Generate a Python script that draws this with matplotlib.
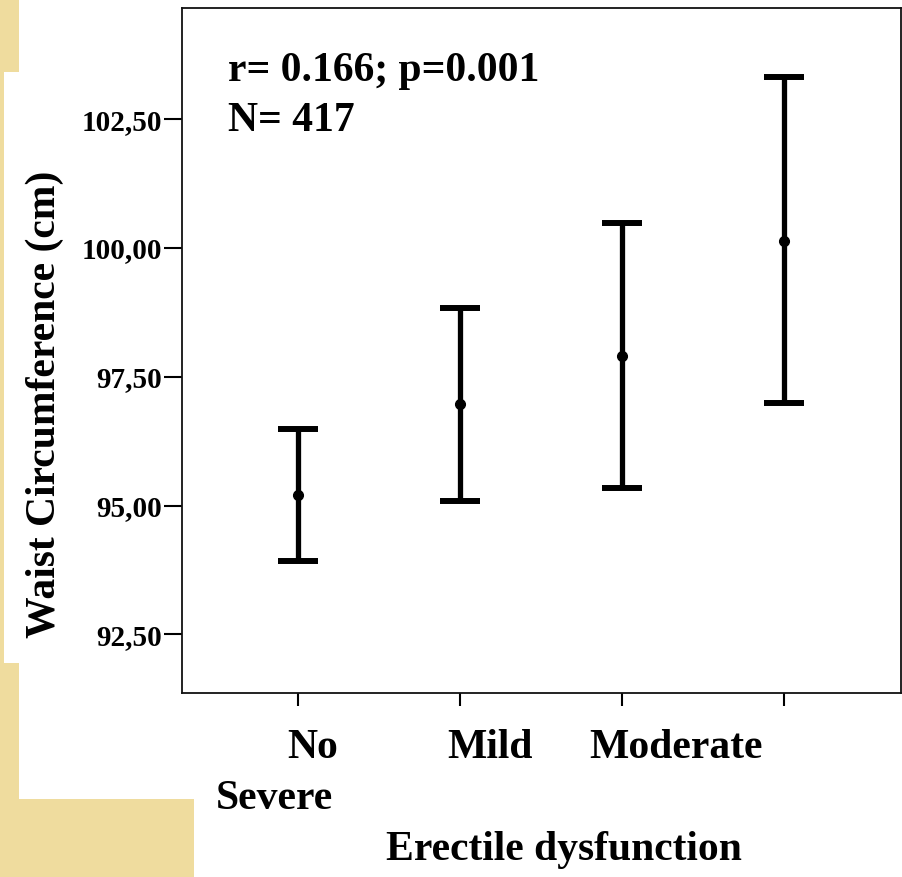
import matplotlib
matplotlib.use("Agg")
import matplotlib.pyplot as plt
from matplotlib.patches import Rectangle

# Waist circumference (cm) by erectile dysfunction grade: mean and 95% CI
groups = ["No", "Mild", "Moderate", "Severe"]
means = [95.20, 96.97, 97.91, 100.13]
ci_low = [93.92, 95.09, 95.34, 96.99]
ci_high = [96.49, 98.84, 100.48, 103.32]
ytick_vals = [92.5, 95.0, 97.5, 100.0, 102.5]
ytick_labels = ["92,50", "95,00", "97,50", "100,00", "102,50"]

W, H = 903, 877
fig = plt.figure(figsize=(W / 100, H / 100), dpi=100)
fig.patch.set_facecolor("#EFDC9E")

# white panels of the slide over the textured background
def px_rect(x0, y0, x1, y1, color="white"):
    fig.patches.append(Rectangle((x0 / W, 1 - y1 / H), (x1 - x0) / W, (y1 - y0) / H,
                                 transform=fig.transFigure, facecolor=color,
                                 edgecolor="none", zorder=-10))

px_rect(19, 0, W, 799)
px_rect(4, 72, 200, 663)
px_rect(194, 799, W, H)

serif = ["Liberation Serif", "DejaVu Serif"]

ax = fig.add_axes([182 / W, 1 - 693 / H, (901 - 182) / W, (693 - 8) / H])
ax.set_zorder(2)
ax.set_facecolor("white")

x = list(range(len(groups)))
err_lo = [m - lo for m, lo in zip(means, ci_low)]
err_hi = [hi - m for m, hi in zip(means, ci_high)]
ax.errorbar(x, means, yerr=[err_lo, err_hi], fmt="o", color="black",
            ecolor="black", elinewidth=3.8, capsize=14.5, capthick=4.3,
            markersize=7, zorder=3)

ax.set_xlim(-0.716, 3.722)
ax.set_ylim(91.36, 104.66)

ax.set_yticks(ytick_vals)
ax.set_yticklabels(ytick_labels, fontsize=21, fontweight="bold", family=serif)
ax.set_xticks(x)
ax.set_xticklabels([""] * len(groups))
ax.tick_params(axis="y", length=13, width=1.5, pad=1.5, color="black")
ax.tick_params(axis="x", length=9, width=1.5, color="black")
for sp in ax.spines.values():
    sp.set_linewidth(1.3)
    sp.set_color("#111111")

txt = dict(fontsize=30, fontweight="bold", family=serif, color="black")

# category labels (wrapped text line under the axis)
cat_pos = {"No": (313, 758), "Mild": (490, 758), "Moderate": (676, 758),
           "Severe": (274, 809)}
for g in groups:
    px, py = cat_pos[g]
    fig.text(px / W, 1 - py / H, g, ha="center", va="baseline", **txt)

fig.text(564 / W, 1 - 860 / H, "Erectile dysfunction", ha="center",
         va="baseline", **txt)
fig.text(45 / W, 1 - 404 / H, "Waist Circumference (cm)", rotation=90,
         ha="center", va="center", **txt)

fig.text(228 / W, 1 - 81 / H, "r= 0.166; p=0.001", ha="left", va="baseline",
         zorder=5, **txt)
fig.text(228 / W, 1 - 131 / H, "N= 417", ha="left", va="baseline", zorder=5, **txt)

fig.savefig("out.png", dpi=100, facecolor=fig.get_facecolor())
